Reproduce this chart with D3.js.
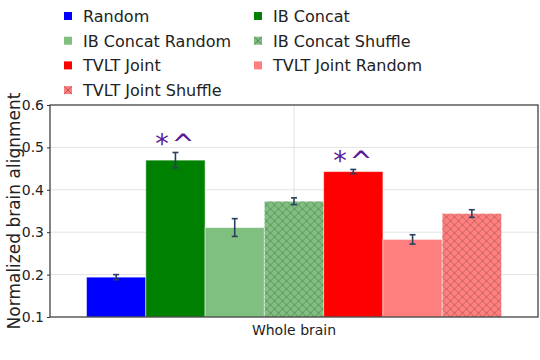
<!DOCTYPE html>
<html>
<head>
<meta charset="utf-8">
<script src="https://cdn.jsdelivr.net/npm/d3@7"></script>
<style>
  body { margin: 0; background: #fff; }
  text { font-family: "DejaVu Sans", sans-serif; fill: #222; }
</style>
</head>
<body>
<div id="chart"></div>
<script>
var width = 540;
var height = 360;

// data
var category = "Whole brain";
var seriesNames = ["Random", "IB Concat", "IB Concat Random", "IB Concat Shuffle",
                   "TVLT Joint", "TVLT Joint Random", "TVLT Joint Shuffle"];
var seriesValues = [0.194, 0.470, 0.311, 0.373, 0.443, 0.283, 0.344];
var seriesErrors = [0.006, 0.018, 0.021, 0.008, 0.005, 0.011, 0.009];
var seriesColors = ["#0000ff", "#008000", "#7fbf7f", "#7fbf7f",
                    "#ff0000", "#ff7f7f", "#ff7f7f"];
var seriesHatch = [false, false, false, true, false, false, true];
var seriesMarks = ["", "*^", "", "", "*^", "", ""];
var yTicks = [0.1, 0.2, 0.3, 0.4, 0.5, 0.6];

var margin = {left: 50, right: 2, top: 105, bottom: 43};
var plotW = width - margin.left - margin.right;
var plotH = height - margin.top - margin.bottom;

var svg = d3.select("#chart").append("svg")
    .attr("width", width)
    .attr("height", height);

var defs = svg.append("defs");
function addHatch(id) {
    var p = defs.append("pattern")
        .attr("id", id)
        .attr("patternUnits", "userSpaceOnUse")
        .attr("width", 8)
        .attr("height", 8);
    p.append("path")
        .attr("d", "M0,0L8,8M8,0L0,8")
        .attr("stroke", "rgba(0,0,0,0.28)")
        .attr("stroke-width", 0.8)
        .attr("fill", "none");
}
addHatch("hatch");

var g = svg.append("g")
    .attr("transform", "translate(" + margin.left + "," + margin.top + ")");

var y = d3.scaleLinear().domain([0.1, 0.6]).range([plotH, 0]);

var x0 = d3.scaleBand().domain([category]).range([0, plotW]).paddingInner(0).paddingOuter(0.088);
var x1 = d3.scaleBand().domain(seriesNames).range([0, x0.bandwidth()]).padding(0);

// grid
g.selectAll(".hgrid")
    .data(yTicks.slice(1, -1))
    .enter().append("line")
    .attr("class", "hgrid")
    .attr("x1", 0).attr("x2", plotW)
    .attr("y1", function(d) { return y(d); })
    .attr("y2", function(d) { return y(d); })
    .attr("stroke", "#e2e2e2")
    .attr("stroke-width", 1);

g.append("line")
    .attr("x1", x0(category) + x0.bandwidth() / 2)
    .attr("x2", x0(category) + x0.bandwidth() / 2)
    .attr("y1", 0).attr("y2", plotH)
    .attr("stroke", "#e2e2e2");

// bars
var bars = g.append("g").attr("transform", "translate(" + x0(category) + ",0)");

var rows = seriesNames.map(function(n, i) {
    return {name: n, value: seriesValues[i], err: seriesErrors[i], color: seriesColors[i],
            hatch: seriesHatch[i], mark: seriesMarks[i]};
});

bars.selectAll(".bar")
    .data(rows)
    .enter().append("rect")
    .attr("class", "bar")
    .attr("x", function(d) { return x1(d.name); })
    .attr("width", x1.bandwidth())
    .attr("y", function(d) { return y(d.value); })
    .attr("height", function(d) { return plotH - y(d.value); })
    .attr("fill", function(d) { return d.color; })
    .attr("stroke", "rgba(255,255,255,0.5)")
    .attr("stroke-width", 1);

bars.selectAll(".hatch")
    .data(rows.filter(function(d) { return d.hatch; }))
    .enter().append("rect")
    .attr("class", "hatch")
    .attr("x", function(d) { return x1(d.name); })
    .attr("width", x1.bandwidth())
    .attr("y", function(d) { return y(d.value); })
    .attr("height", function(d) { return plotH - y(d.value); })
    .attr("fill", "url(#hatch)");

// error bars
var eb = bars.selectAll(".err")
    .data(rows)
    .enter().append("g")
    .attr("class", "err")
    .attr("stroke", "#2a3f5f")
    .attr("stroke-width", 1.6);

eb.append("line")
    .attr("x1", function(d) { return x1(d.name) + x1.bandwidth() / 2; })
    .attr("x2", function(d) { return x1(d.name) + x1.bandwidth() / 2; })
    .attr("y1", function(d) { return y(d.value - d.err); })
    .attr("y2", function(d) { return y(d.value + d.err); });

[-1, 1].forEach(function(s) {
    eb.append("line")
        .attr("x1", function(d) { return x1(d.name) + x1.bandwidth() / 2 - 3; })
        .attr("x2", function(d) { return x1(d.name) + x1.bandwidth() / 2 + 3; })
        .attr("y1", function(d) { return y(d.value + s * d.err); })
        .attr("y2", function(d) { return y(d.value + s * d.err); });
});

// significance marks
bars.selectAll(".mark")
    .data(rows.filter(function(d) { return d.mark; }))
    .enter().append("text")
    .attr("class", "mark")
    .attr("x", function(d) { return x1(d.name) + x1.bandwidth() / 2 + 1; })
    .attr("y", function(d) { return y(d.value + d.err) + 1; })
    .attr("text-anchor", "middle")
    .attr("font-size", "27px")
    .attr("letter-spacing", "3px")
    .style("fill", "#5a1a96")
    .text(function(d) { return d.mark; });

// axes
var yAxis = g.append("g")
    .call(d3.axisLeft(y).tickValues(yTicks).tickFormat(d3.format(".1f")).tickSize(3).tickPadding(3));
yAxis.select(".domain").remove();
yAxis.selectAll("line").attr("stroke", "#333");
yAxis.selectAll("text").attr("font-size", "14px").attr("font-family", "DejaVu Sans").style("fill", "#222");

// frame
g.append("rect")
    .attr("x", 0).attr("y", 0)
    .attr("width", plotW).attr("height", plotH)
    .attr("fill", "none")
    .attr("stroke", "#333")
    .attr("stroke-width", 1.2);

g.append("text")
    .attr("x", x0(category) + x0.bandwidth() / 2)
    .attr("y", plotH + 18)
    .attr("text-anchor", "middle")
    .attr("font-size", "14px")
    .text(category);

svg.append("text")
    .attr("transform", "translate(20,211) rotate(-90)")
    .attr("text-anchor", "middle")
    .attr("font-size", "17px")
    .text("Normalized brain alignment");

// legend
var legend = svg.append("g");
var leg = legend.selectAll(".leg")
    .data(rows)
    .enter().append("g")
    .attr("class", "leg")
    .attr("transform", function(d, i) {
        return "translate(" + (i % 2 === 0 ? 64 : 254) + "," + (16 + Math.floor(i / 2) * 24.7) + ")";
    });

leg.append("rect")
    .attr("x", 0).attr("y", -4).attr("width", 8).attr("height", 8)
    .attr("fill", function(d) { return d.color; });
leg.filter(function(d) { return d.hatch; }).append("path")
    .attr("d", "M0,-4L8,4M8,-4L0,4")
    .attr("stroke", "rgba(0,0,0,0.3)")
    .attr("stroke-width", 1);

leg.append("text")
    .attr("x", 19)
    .attr("y", 6)
    .attr("font-size", "16px")
    .text(function(d) { return d.name; });
</script>
</body>
</html>
